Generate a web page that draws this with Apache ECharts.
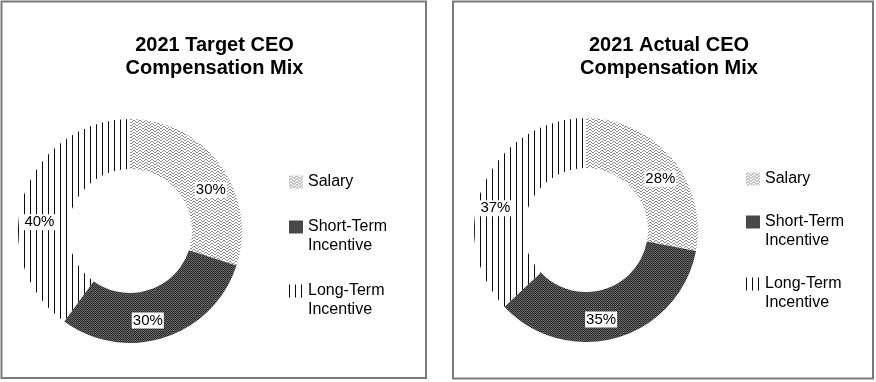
<!DOCTYPE html>
<html>
<head>
<meta charset="utf-8">
<style>
html,body{margin:0;padding:0;background:#fff;}
#chart{width:876px;height:382px;}
</style>
<script src="https://cdn.jsdelivr.net/npm/echarts@6/dist/echarts.min.js"></script>
</head>
<body>
<div id="chart"></div>
<script>
// ---- data ----
const categories = ['Salary', 'Short-Term Incentive', 'Long-Term Incentive'];
const targetValues = [30, 30, 40];
const actualValues = [28, 35, 37];
const titleTarget = ['2021 Target CEO', 'Compensation Mix'];
const titleActual = ['2021 Actual CEO', 'Compensation Mix'];

// ---- patterns (styles) ----
function makePattern(w, h, draw) {
  const c = document.createElement('canvas');
  c.width = w; c.height = h;
  const ctx = c.getContext('2d');
  ctx.fillStyle = '#fff';
  ctx.fillRect(0, 0, w, h);
  draw(ctx);
  return { image: c, repeat: 'repeat' };
}
const salaryPattern = makePattern(6, 3, ctx => {
  ctx.fillStyle = '#8c8c8c';
  [[1,0],[2,0],[0,1],[3,1],[4,2],[5,2]].forEach(p => ctx.fillRect(p[0], p[1], 1, 1));
});
const stiPattern = makePattern(2, 2, ctx => {
  ctx.fillStyle = '#383838'; ctx.fillRect(0, 0, 1, 1);
  ctx.fillStyle = '#666666'; ctx.fillRect(1, 0, 1, 1);
  ctx.fillStyle = '#555555'; ctx.fillRect(0, 1, 1, 1);
  ctx.fillStyle = '#303030'; ctx.fillRect(1, 1, 1, 1);
});
const ltiPattern = makePattern(6, 2, ctx => {
  ctx.fillStyle = '#0a0a0a';
  ctx.fillRect(0, 0, 1, 2);
});
const patterns = [salaryPattern, stiPattern, ltiPattern];

const FONT = '"Liberation Sans", Arial, sans-serif';

// label nudges (style only) to mimic the original label placement
const nudgeTarget = [[8, 12], [-10, 4], [-5, 19]];
const nudgeActual = [[5, 6], [-10, 3], [-8, 14]];

function buildData(values, nudges) {
  return categories.map((name, i) => ({
    name: name,
    value: values[i],
    itemStyle: { color: patterns[i] },
    label: { offset: nudges[i] }
  }));
}

function pieSeries(values, center, nudges) {
  return {
    type: 'pie',
    center: center,
    radius: [62, 112],
    startAngle: 90,
    clockwise: true,
    avoidLabelOverlap: false,
    silent: true,
    selectedMode: false,
    emphasis: { disabled: true },
    label: {
      show: true,
      position: 'inside',
      formatter: '{c}%',
      color: '#000',
      fontSize: 15,
      fontFamily: FONT,
      backgroundColor: '#fff',
      padding: [1, 1, 0, 1]
    },
    labelLine: { show: false },
    itemStyle: { borderWidth: 0 },
    data: buildData(values, nudges)
  };
}

function legendFor(left, top, gap) {
  return {
    orient: 'vertical',
    left: left,
    top: top,
    padding: 0,
    itemGap: gap,
    itemWidth: 14,
    itemHeight: 13,
    icon: 'rect',
    selectedMode: false,
    formatter: name => name.indexOf(' Incentive') >= 0 ? '\n' + name.replace(' Incentive', '\nIncentive') : name,
    textStyle: { fontSize: 16, fontFamily: FONT, color: '#000', lineHeight: 19 },
    data: categories
  };
}

function titleGraphic(lines, cx) {
  return {
    type: 'text',
    x: cx,
    y: 34,
    silent: true,
    style: {
      text: lines.join('\n'),
      align: 'center',
      verticalAlign: 'top',
      font: 'bold 20px ' + FONT,
      lineHeight: 23,
      fill: '#000'
    }
  };
}

const chart = echarts.init(document.getElementById('chart'), null, { renderer: 'canvas' });
chart.setOption({
  animation: false,
  backgroundColor: '#fff',
  graphic: [
    { type: 'rect', shape: { x: 1.5, y: 1.5, width: 424.5, height: 376.5 }, style: { fill: 'none', stroke: '#7a7a7a', lineWidth: 2 }, silent: true },
    { type: 'rect', shape: { x: 453, y: 1.5, width: 420, height: 377 }, style: { fill: 'none', stroke: '#7a7a7a', lineWidth: 2 }, silent: true },
    titleGraphic(titleTarget, 214.5),
    titleGraphic(titleActual, 669)
  ],
  legend: [
    legendFor(289, 172.5, 7),
    legendFor(746, 169.5, 5)
  ],
  series: [
    pieSeries(targetValues, [130, 231], nudgeTarget),
    pieSeries(actualValues, [586, 230], nudgeActual)
  ]
});
</script>
</body>
</html>
